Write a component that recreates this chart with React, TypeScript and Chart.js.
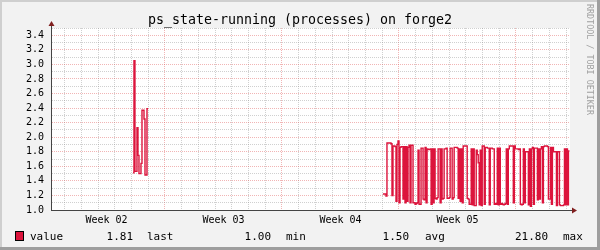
import React, { useEffect, useRef } from 'react';
import { Chart, registerables } from 'chart.js';

Chart.register(...registerables);

const TITLE = 'ps_state-running (processes) on forge2';
const WATERMARK = 'RRDTOOL / TOBI OETIKER';
const SERIES_NAME = 'value';
const STAT_NAMES = ['last', 'min', 'avg', 'max'];
const STAT_VALUES = ['1.81', '1.00', '1.50', '21.80'];

// time axis in hours, relative to the start of Week 03
const X_MIN_HOURS = -163.7;
const X_MAX_HOURS = 581.6;
const WEEK_LABELS = ['Week 02', 'Week 03', 'Week 04', 'Week 05'];
const WEEK_LABEL_HOURS = [-84, 84, 252, 420];

const Y_MIN = 1.0;
const Y_MAX = 3.5;
const Y_TICKS = [
  1.0, 1.1, 1.2, 1.3, 1.4, 1.5, 1.6, 1.7, 1.8, 1.9, 2.0, 2.1, 2.2,
  2.3, 2.4, 2.5, 2.6, 2.7, 2.8, 2.9, 3.0, 3.1, 3.2, 3.3, 3.4, 3.5,
];

const SAMPLE_HOURS = 1.44;

const BURST1_START_HOURS = -46;
const BURST1_VALUES = [
  1.51, 3.05, 1.53, 1.53, 2.13, 1.75, 1.5, 1.5, 1.64, 2.37, 2.37, 2.25, 1.48, 1.48, 2.39,
];

const BURST2_START_HOURS = 313;
const BURST2_VALUES = [
  1.22, 1.22, 1.22, 1.19, 1.92, 1.92, 1.92, 1.92, 1.91, 1.2,
  1.88, 1.88, 1.87, 1.12, 1.9, 1.95, 1.1, 1.86, 1.87, 1.87,
  1.15, 1.87, 1.1, 1.87, 1.12, 1.86, 1.89, 1.1, 1.89, 1.89,
  1.1, 1.1, 1.08, 1.09, 1.1, 1.82, 1.08, 1.08, 1.85, 1.85,
  1.15, 1.14, 1.86, 1.1, 1.84, 1.83, 1.83, 1.84, 1.08, 1.84,
  1.1, 1.84, 1.16, 1.15, 1.17, 1.84, 1.84, 1.1, 1.84, 1.15,
  1.16, 1.84, 1.84, 1.85, 1.16, 1.16, 1.17, 1.85, 1.85, 1.15,
  1.17, 1.86, 1.86, 1.86, 1.85, 1.16, 1.84, 1.12, 1.84, 1.1,
  1.88, 1.88, 1.88, 1.88, 1.16, 1.15, 1.08, 1.08, 1.84, 1.07,
  1.84, 1.06, 1.06, 1.82, 1.76, 1.65, 1.07, 1.82, 1.06, 1.88,
  1.88, 1.08, 1.86, 1.86, 1.85, 1.85, 1.07, 1.85, 1.85, 1.84,
  1.84, 1.08, 1.09, 1.08, 1.85, 1.07, 1.85, 1.08, 1.09, 1.08,
  1.07, 1.08, 1.09, 1.84, 1.08, 1.84, 1.88, 1.88, 1.88, 1.88,
  1.1, 1.88, 1.84, 1.84, 1.84, 1.83, 1.84, 1.08, 1.07, 1.08,
  1.84, 1.1, 1.8, 1.8, 1.8, 1.07, 1.84, 1.05, 1.84, 1.86,
  1.08, 1.85, 1.85, 1.85, 1.14, 1.84, 1.15, 1.84, 1.87, 1.1,
  1.87, 1.88, 1.88, 1.88, 1.87, 1.15, 1.15, 1.86, 1.08, 1.86,
  1.8, 1.8, 1.8, 1.06, 1.8, 1.8, 1.07, 1.06, 1.06, 1.06,
  1.07, 1.84, 1.07, 1.84, 1.07, 1.81,
];

const LINE_COLOR = '#dc143c';
const MONO = '"DejaVu Sans Mono", "Liberation Mono", monospace';

function toPoints(start: number, values: number[]) {
  const pts: { x: number; y: number | null }[] = values.map((v, i) => ({ x: start + i * SAMPLE_HOURS, y: v }));
  pts.push({ x: start + values.length * SAMPLE_HOURS, y: values[values.length - 1] });
  return pts;
}

function buildXTicks() {
  const ticks: { value: number }[] = [];
  const first = Math.ceil(X_MIN_HOURS / 12) * 12;
  for (let h = first; h <= X_MAX_HOURS; h += 12) ticks.push({ value: h });
  return ticks;
}

const framePlugin = {
  id: 'rrdFrame',
  beforeDraw(chart: any) {
    const { ctx, chartArea, width, height } = chart;
    ctx.save();
    ctx.fillStyle = '#f2f2f2';
    ctx.fillRect(0, 0, width, height);
    ctx.fillStyle = '#cfcfcf';
    ctx.fillRect(0, 0, width, 2);
    ctx.fillRect(0, 0, 2, height);
    ctx.fillStyle = '#9e9e9e';
    ctx.fillRect(0, height - 3, width, 3);
    ctx.fillRect(width - 3, 0, 3, height);
    ctx.fillStyle = '#ffffff';
    ctx.fillRect(chartArea.left, chartArea.top, chartArea.right - chartArea.left, chartArea.bottom - chartArea.top);
    ctx.restore();
  },
  afterDraw(chart: any) {
    const { ctx, chartArea } = chart;
    const { left, right, top, bottom } = chartArea;
    ctx.save();
    // axis extensions and arrows
    ctx.strokeStyle = '#444444';
    ctx.lineWidth = 1;
    ctx.beginPath();
    ctx.moveTo(left + 0.5, top);
    ctx.lineTo(left + 0.5, top - 3);
    ctx.moveTo(right, bottom + 0.5);
    ctx.lineTo(right + 3, bottom + 0.5);
    ctx.stroke();
    ctx.fillStyle = '#801f1f';
    ctx.beginPath();
    ctx.moveTo(left - 2.5, top - 2);
    ctx.lineTo(left + 3.5, top - 2);
    ctx.lineTo(left + 0.5, top - 7);
    ctx.closePath();
    ctx.fill();
    ctx.beginPath();
    ctx.moveTo(right + 2, bottom - 2.5);
    ctx.lineTo(right + 2, bottom + 3.5);
    ctx.lineTo(right + 7, bottom + 0.5);
    ctx.closePath();
    ctx.fill();

    // title
    ctx.fillStyle = '#000000';
    ctx.font = `13.3px ${MONO}`;
    ctx.textAlign = 'center';
    ctx.textBaseline = 'alphabetic';
    ctx.fillText(TITLE, 300, 24);

    // watermark
    ctx.save();
    ctx.translate(589, 4);
    ctx.rotate(Math.PI / 2);
    ctx.fillStyle = '#a0a0a0';
    ctx.font = `8.4px ${MONO}`;
    ctx.textAlign = 'left';
    ctx.textBaseline = 'middle';
    ctx.fillText(WATERMARK, 0, 0);
    ctx.restore();

    // legend row
    ctx.fillStyle = LINE_COLOR;
    ctx.fillRect(15, 231, 9, 10);
    ctx.strokeStyle = '#000000';
    ctx.lineWidth = 1;
    ctx.strokeRect(15.5, 231.5, 8, 9);
    ctx.fillStyle = '#000000';
    ctx.font = `11px ${MONO}`;
    ctx.textBaseline = 'alphabetic';
    ctx.textAlign = 'left';
    ctx.fillText(SERIES_NAME, 30, 240);
    const valueRight = [133, 271, 409, 548];
    const nameLeft = [147, 286, 425, 563];
    STAT_VALUES.forEach((v, i) => {
      ctx.textAlign = 'right';
      ctx.fillText(v, valueRight[i], 240);
      ctx.textAlign = 'left';
      ctx.fillText(STAT_NAMES[i], nameLeft[i], 240);
    });
    ctx.restore();
  },
};

export default function App() {
  const canvasRef = useRef<HTMLCanvasElement | null>(null);

  useEffect(() => {
    if (!canvasRef.current) return;
    const b1 = toPoints(BURST1_START_HOURS, BURST1_VALUES);
    const b2 = toPoints(BURST2_START_HOURS, BURST2_VALUES);
    const gapX = (b1[b1.length - 1].x + BURST2_START_HOURS) / 2;
    const points = [...b1, { x: gapX, y: null }, ...b2];

    const gridColor = (major: boolean) => (major ? 'rgba(222,79,79,0.42)' : 'rgba(143,143,143,0.42)');

    const chart = new Chart(canvasRef.current, {
      type: 'line',
      data: {
        datasets: [
          {
            label: SERIES_NAME,
            data: points as any,
            borderColor: LINE_COLOR,
            backgroundColor: LINE_COLOR,
            borderWidth: 1.4,
            pointRadius: 0,
            stepped: 'before',
            spanGaps: false,
            fill: false,
            tension: 0,
          },
        ],
      },
      options: {
        responsive: false,
        animation: false,
        events: [],
        layout: { padding: { left: 0, right: 30, top: 28, bottom: 0 } },
        plugins: {
          legend: { display: false },
          title: { display: false },
          tooltip: { enabled: false },
        },
        scales: {
          x: {
            type: 'linear',
            min: X_MIN_HOURS,
            max: X_MAX_HOURS,
            afterFit: (s: any) => {
              s.height = 40;
            },
            afterBuildTicks: (s: any) => {
              s.ticks = buildXTicks();
            },
            grid: {
              drawTicks: false,
              lineWidth: 1,
              color: (c: any) => {
                const v = c.tick ? c.tick.value : 0;
                if (Math.abs(v % 168) < 1e-6) return gridColor(true);
                if (Math.abs(v % 24) < 1e-6) return gridColor(false);
                return 'rgba(0,0,0,0)';
              },
            },
            border: { display: true, color: '#444444', width: 1, dash: [1, 1] },
            ticks: {
              autoSkip: false,
              maxRotation: 0,
              minRotation: 0,
              padding: 4,
              color: '#000000',
              font: { family: MONO, size: 10 },
              callback: (value: any) => {
                const idx = WEEK_LABEL_HOURS.indexOf(Number(value));
                return idx >= 0 ? WEEK_LABELS[idx] : '';
              },
            },
          },
          y: {
            type: 'linear',
            min: Y_MIN,
            max: Y_MAX,
            afterFit: (s: any) => {
              s.width = 51;
            },
            afterBuildTicks: (s: any) => {
              s.ticks = Y_TICKS.map((v) => ({ value: v }));
            },
            grid: {
              drawTicks: false,
              lineWidth: 1,
              color: (c: any) => {
                const v = c.tick ? c.tick.value : 0;
                return gridColor(Math.round(v * 10) % 2 === 0);
              },
            },
            border: { display: true, color: '#444444', width: 1, dash: [1, 1] },
            ticks: {
              autoSkip: false,
              padding: 7,
              color: '#000000',
              font: { family: MONO, size: 10 },
              callback: (value: any) => {
                const v = Number(value);
                return Math.round(v * 10) % 2 === 0 ? v.toFixed(1) : '';
              },
            },
          },
        },
      },
      plugins: [framePlugin],
    });
    return () => chart.destroy();
  }, []);

  return (
    <div style={{ position: 'absolute', left: 0, top: 0, width: 600, height: 250 }}>
      <canvas ref={canvasRef} width={600} height={250} style={{ display: 'block' }} />
    </div>
  );
}
